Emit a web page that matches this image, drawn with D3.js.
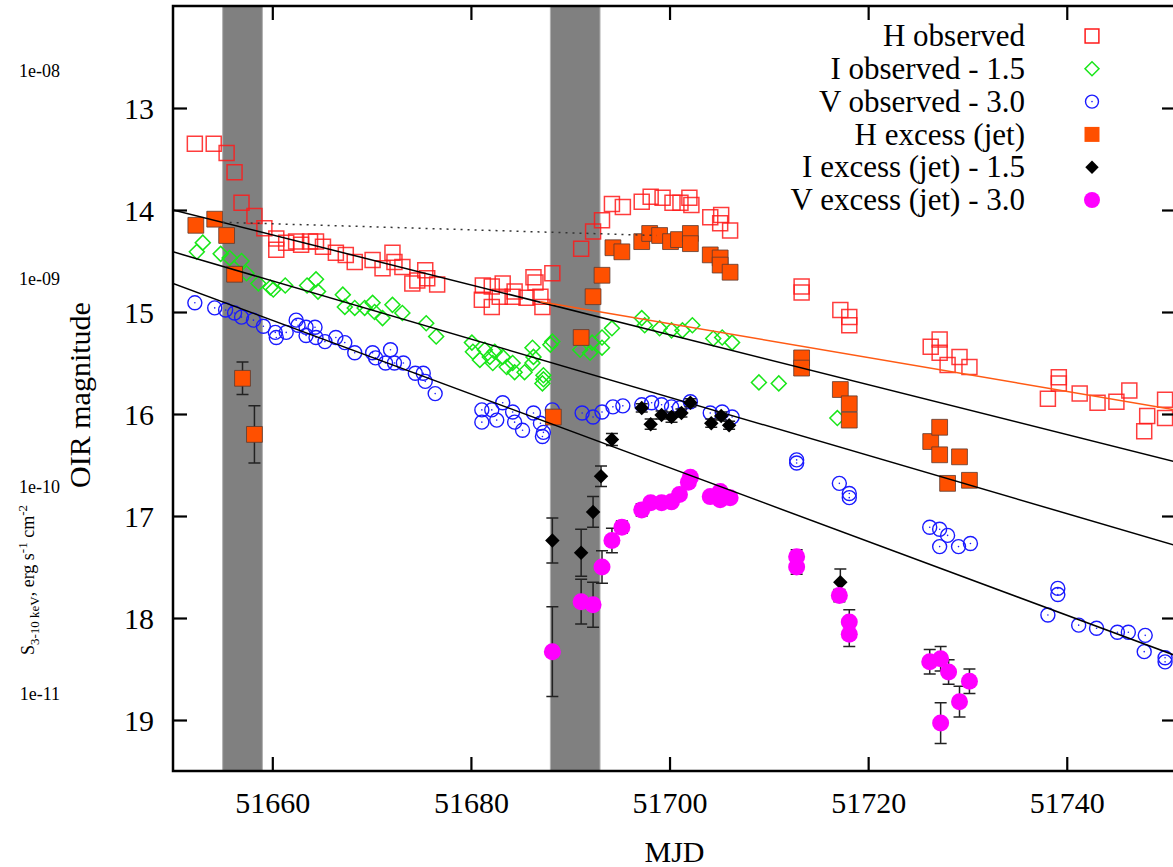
<!DOCTYPE html>
<html>
<head>
<meta charset="utf-8">
<script src="https://cdn.jsdelivr.net/npm/d3@7"></script>
<style>
  body { margin: 0; background: #fff; }
  svg { display: block; font-family: "Liberation Serif", "DejaVu Serif", serif; }
</style>
</head>
<body>
<script>
// --- data (MJD, magnitude[, error]) ---
const hObserved = [
  [51652.2,13.35],[51654.1,13.35],[51655.4,13.44],[51656.2,13.63],[51656.9,13.93],[51658.2,14.06],[51659.2,14.18],
  [51660.4,14.28],[51660.4,14.39],[51661.4,14.32],[51662.4,14.31],[51662.9,14.34],[51663.8,14.31],[51664.4,14.31],
  [51665.1,14.36],[51666.4,14.42],[51667.4,14.44],[51668.3,14.51],[51670.1,14.49],[51671.1,14.57],[51672.1,14.42],
  [51672.3,14.51],[51673.1,14.56],[51674.1,14.72],[51674.6,14.69],[51675.4,14.59],[51675.6,14.67],[51676.6,14.73],
  [51681.2,14.74],[51681.1,14.88],[51682.1,14.75],[51682.1,14.95],[51683.2,14.72],[51682.9,14.85],[51684.2,14.85],
  [51684.4,14.80],[51685.6,14.86],[51686.3,14.66],[51686.5,14.71],[51687.2,14.95],[51687.0,14.85],[51688.2,14.62],
  [51691.1,14.38],[51692.3,14.21],[51693.2,14.10],[51694.2,13.94],[51695.3,13.97],[51697.2,13.92],[51698.1,13.87],
  [51699.3,13.88],[51700.3,13.93],[51701.1,13.93],[51702.0,13.88],[51702.2,13.95],[51704.1,14.07],[51705.2,14.05],
  [51705.1,14.13],[51706.1,14.20],[51713.3,14.75],[51713.3,14.81],[51717.2,14.98],[51718.1,15.05],[51718.1,15.13],
  [51726.3,15.34],[51727.2,15.27],[51727.2,15.40],[51728.0,15.52],[51729.2,15.44],[51730.2,15.54],[51738.1,15.85],
  [51739.2,15.64],[51739.2,15.70],[51741.3,15.80],[51743.1,15.89],[51745.0,15.88],[51746.3,15.77],[51748.1,16.02],
  [51747.8,16.17],[51749.9,15.86],[51749.9,16.04]
];
const iObserved = [
  [51652.4,14.41],[51653.0,14.32],[51654.8,14.43],[51655.7,14.47],[51656.9,14.50],[51657.4,14.62],[51658.6,14.72],
  [51659.8,14.76],[51660.1,14.78],[51661.3,14.74],[51663.5,14.74],[51664.4,14.68],[51664.6,14.80],[51667.1,14.83],
  [51667.3,14.95],[51668.3,14.96],[51669.3,14.96],[51670.1,14.91],[51670.3,15.00],[51671.1,15.06],[51672.1,14.93],
  [51673.1,15.01],[51675.5,15.11],[51676.5,15.24],[51680.1,15.30],[51680.2,15.39],[51680.9,15.47],[51681.4,15.37],
  [51681.9,15.44],[51682.4,15.39],[51682.2,15.50],[51683.2,15.44],[51683.6,15.54],[51684.2,15.50],[51684.4,15.59],
  [51685.4,15.59],[51686.2,15.35],[51686.3,15.44],[51686.2,15.50],[51687.3,15.62],[51687.2,15.70],[51687.3,15.66],
  [51688.2,15.29],[51688.0,15.32],[51691.0,15.37],[51692.0,15.40],[51692.2,15.30],[51693.2,15.35],[51693.2,15.25],
  [51694.2,15.16],[51697.2,15.06],[51697.5,15.13],[51699.0,15.16],[51700.2,15.18],[51701.3,15.18],[51702.3,15.13],
  [51704.4,15.26],[51705.3,15.25],[51706.3,15.30],[51709.0,15.69],[51711.0,15.70],[51716.9,16.04]
];
const vObserved = [
  [51652.2,14.91],[51654.2,14.96],[51655.3,14.98],[51656.2,15.01],[51656.9,15.05],[51658.1,15.08],[51659.1,15.14],
  [51660.3,15.20],[51660.4,15.25],[51661.4,15.20],[51662.4,15.08],[51662.6,15.13],[51663.4,15.15],[51664.3,15.15],
  [51663.4,15.23],[51664.4,15.25],[51665.3,15.29],[51666.4,15.25],[51667.3,15.30],[51668.3,15.40],[51670.1,15.40],
  [51670.4,15.45],[51671.9,15.37],[51671.4,15.50],[51672.3,15.50],[51673.2,15.50],[51674.4,15.60],[51675.2,15.60],
  [51675.4,15.68],[51676.4,15.80],[51681.1,15.96],[51681.1,16.08],[51682.1,15.96],[51683.2,15.89],[51682.6,16.06],
  [51684.2,15.98],[51684.4,16.08],[51685.2,16.16],[51686.3,15.99],[51687.0,16.09],[51687.2,16.22],[51687.3,16.18],
  [51688.2,15.96],[51691.2,15.99],[51692.3,16.03],[51693.2,15.98],[51694.3,15.93],[51695.3,15.92],[51697.2,15.91],
  [51698.2,15.89],[51699.2,15.91],[51700.2,15.93],[51701.0,15.94],[51702.1,15.88],[51704.1,15.99],[51705.3,15.98],
  [51706.3,16.03],[51712.8,16.45],[51712.8,16.48],[51717.1,16.68],[51718.1,16.78],[51718.1,16.82],[51726.2,17.11],
  [51727.2,17.13],[51728.0,17.19],[51727.2,17.30],[51729.1,17.30],[51730.3,17.27],[51738.1,17.97],[51739.1,17.71],
  [51739.1,17.77],[51741.2,18.07],[51743.0,18.10],[51745.1,18.14],[51746.2,18.14],[51747.9,18.17],[51747.8,18.33],
  [51749.9,18.39],[51749.9,18.43]
];
const hExcess = [
  [51652.3,14.15,0],[51654.2,14.09,0],[51655.4,14.25,0],[51656.2,14.63,0],[51657.0,15.65,0.16],[51658.2,16.20,0.28],
  [51688.3,16.03,0.05],[51691.1,15.25,0],[51692.3,14.85,0],[51693.2,14.64,0],[51694.3,14.37,0],[51695.2,14.41,0],
  [51697.2,14.31,0],[51698.0,14.23,0],[51699.0,14.25,0],[51700.1,14.31,0],[51700.9,14.29,0],[51702.1,14.23,0],
  [51702.1,14.33,0],[51704.1,14.44,0],[51705.1,14.47,0],[51705.1,14.54,0],[51706.1,14.61,0],[51713.3,15.45,0],
  [51713.3,15.55,0],[51717.2,15.76,0],[51718.1,15.90,0],[51718.1,16.06,0],[51726.3,16.27,0],[51727.2,16.13,0],
  [51727.2,16.40,0],[51729.2,16.42,0],[51728.0,16.68,0],[51730.2,16.65,0]
];
const iExcess = [
  [51688.2,17.24,0.22],[51691.1,17.36,0.23],[51692.3,16.96,0.15],[51693.1,16.61,0.10],[51694.2,16.25,0.06],
  [51697.2,15.94,0.04],[51698.1,16.10,0.05],[51699.2,16.01,0.04],[51700.2,16.03,0.05],[51701.2,15.99,0.04],
  [51702.1,15.89,0.04],[51704.2,16.09,0.04],[51705.2,16.02,0.04],[51706.0,16.11,0.04],[51717.2,17.65,0.13]
];
const vExcess = [
  [51688.2,18.33,0.44],[51691.1,17.84,0.22],[51692.3,17.87,0.22],[51693.2,17.50,0.16],[51694.2,17.24,0.12],
  [51695.2,17.11,0.06],[51697.2,16.94,0.06],[51698.1,16.87,0.04],[51699.2,16.87,0.04],[51700.2,16.86,0.04],
  [51701.0,16.79,0.04],[51701.9,16.67,0.04],[51702.1,16.62,0.04],[51704.1,16.81,0.04],[51705.1,16.76,0.04],
  [51705.1,16.84,0.04],[51706.1,16.82,0.04],[51712.8,17.40,0.07],[51712.8,17.50,0.07],[51717.1,17.78,0.06],
  [51718.1,18.04,0.12],[51718.1,18.16,0.12],[51726.2,18.43,0.12],[51727.3,18.40,0.12],[51728.1,18.53,0.12],
  [51727.3,19.03,0.20],[51729.2,18.82,0.15],[51730.2,18.62,0.12]
];

// fitted decays and model line
const hFit = [[51650, 14.00], [51751, 16.47]];
const iFit = [[51650, 14.41], [51751, 17.29]];
const vFit = [[51650, 14.72], [51751, 18.37]];
const hJetFit = [[51687, 14.90], [51751, 15.96]];
const dottedModel = [[51655, 14.12], [51698.7, 14.25]];

// shaded intervals (MJD)
const gaps = [[51655, 51659], [51688, 51693]];

const xTicks = [51660, 51680, 51700, 51720, 51740];
const yTicks = [13, 14, 15, 16, 17, 18, 19];
const fluxTicks = [1e-8, 1e-9, 1e-10, 1e-11];
const fluxTickLabels = ["1e-08", "1e-09", "1e-10", "1e-11"];
const legendLabels = ["H observed", "I observed - 1.5", "V observed - 3.0",
                      "H excess (jet)", "I excess (jet) - 1.5", "V excess (jet) - 3.0"];

// --- layout ---
const width = 1173, height = 867;
const margin = { left: 173, right: 1176, top: 6, bottom: 771 };

const x = d3.scaleLinear().domain([51650, 51751]).range([margin.left, margin.right]);
const y = d3.scaleLinear().domain([12, 19.5]).range([margin.top, margin.bottom]);
const flux = d3.scaleLog().domain([1e-11, 1e-8]).range([694, 71]);

const svg = d3.select("body").append("svg")
  .attr("width", width)
  .attr("height", height);

svg.append("clipPath").attr("id", "plot")
  .append("rect")
  .attr("x", margin.left).attr("y", margin.top)
  .attr("width", margin.right - margin.left)
  .attr("height", margin.bottom - margin.top);

const plot = svg.append("g").attr("clip-path", "url(#plot)");

// grey bands
plot.selectAll("rect.gap")
  .data(gaps)
  .enter().append("rect")
  .attr("class", "gap")
  .attr("x", d => x(d[0]))
  .attr("y", margin.top)
  .attr("width", d => x(d[1]) - x(d[0]))
  .attr("height", margin.bottom - margin.top)
  .attr("fill", "#808080")
  .attr("stroke", "#b0b0b0")
  .attr("stroke-width", 1);

const sym = (type, size) => d3.symbol().type(type).size(size)();

// error bars
function errorBars(data) {
  const g = plot.append("g").attr("stroke", "#222").attr("stroke-width", 1.5).attr("fill", "none");
  const withErr = data.filter(d => d[2] > 0);
  g.selectAll("path")
    .data(withErr)
    .enter().append("path")
    .attr("d", d => {
      const cx = x(d[0]), y0 = y(d[1] - d[2]), y1 = y(d[1] + d[2]);
      return `M${cx},${y0}V${y1}M${cx - 6},${y0}H${cx + 6}M${cx - 6},${y1}H${cx + 6}`;
    });
}

// H observed: open squares
plot.append("g").selectAll("path")
  .data(hObserved).enter().append("path")
  .attr("d", sym(d3.symbolSquare, 225))
  .attr("transform", d => `translate(${x(d[0])},${y(d[1])})`)
  .attr("fill", "none").attr("stroke", "#ff1a1a").attr("stroke-width", 1.5).attr("stroke-opacity", 0.85);

// I observed: open diamonds
plot.append("g").selectAll("path")
  .data(iObserved).enter().append("path")
  .attr("d", sym(d3.symbolSquare, 112))
  .attr("transform", d => `translate(${x(d[0])},${y(d[1])}) rotate(45)`)
  .attr("fill", "none").attr("stroke", "#19e619").attr("stroke-width", 1.5);

// V observed: open circles with a centre dot
const vg = plot.append("g");
vg.selectAll("circle.o")
  .data(vObserved).enter().append("circle")
  .attr("class", "o")
  .attr("cx", d => x(d[0])).attr("cy", d => y(d[1])).attr("r", 7)
  .attr("fill", "none").attr("stroke", "#1a1aff").attr("stroke-width", 1.4);
vg.selectAll("circle.c")
  .data(vObserved).enter().append("circle")
  .attr("class", "c")
  .attr("cx", d => x(d[0])).attr("cy", d => y(d[1])).attr("r", 0.8)
  .attr("fill", "#1a1aff");

// H excess: filled squares
errorBars(hExcess);
plot.append("g").selectAll("path")
  .data(hExcess).enter().append("path")
  .attr("d", sym(d3.symbolSquare, 250))
  .attr("transform", d => `translate(${x(d[0])},${y(d[1])})`)
  .attr("fill", "#ff5000").attr("stroke", "#5a3a30").attr("stroke-width", 0.8);

// I excess: black diamonds
errorBars(iExcess);
plot.append("g").selectAll("path")
  .data(iExcess).enter().append("path")
  .attr("d", sym(d3.symbolSquare, 105))
  .attr("transform", d => `translate(${x(d[0])},${y(d[1])}) rotate(45)`)
  .attr("fill", "#000");

// V excess: magenta dots
errorBars(vExcess);
plot.append("g").selectAll("circle")
  .data(vExcess).enter().append("circle")
  .attr("cx", d => x(d[0])).attr("cy", d => y(d[1])).attr("r", 8.5)
  .attr("fill", "#ff00ff");

// fit lines
const line = d3.line().x(d => x(d[0])).y(d => y(d[1]));
[hFit, iFit, vFit].forEach(f => {
  plot.append("path").attr("d", line(f))
    .attr("fill", "none").attr("stroke", "#000").attr("stroke-width", 1.5);
});
plot.append("path").attr("d", line(hJetFit))
  .attr("fill", "none").attr("stroke", "#ff5a14").attr("stroke-width", 1.5);
plot.append("path").attr("d", line(dottedModel))
  .attr("fill", "none").attr("stroke", "#333").attr("stroke-width", 1.5)
  .attr("stroke-dasharray", "2,5");

// axes (ticks pointing inward on all four sides)
const fontSize = 30;
const xAxis = svg.append("g")
  .attr("transform", `translate(0,${margin.bottom})`)
  .call(d3.axisBottom(x).tickValues(xTicks).tickSize(-14).tickPadding(21).tickFormat(d3.format("d")));
const yAxis = svg.append("g")
  .attr("transform", `translate(${margin.left},0)`)
  .call(d3.axisLeft(y).tickValues(yTicks).tickSize(-14).tickPadding(19).tickFormat(d3.format("d")));
const topAxis = svg.append("g")
  .attr("transform", `translate(0,${margin.top})`)
  .call(d3.axisTop(x).tickValues(xTicks).tickSize(-14).tickFormat(""));
const rightAxis = svg.append("g")
  .attr("transform", `translate(${margin.right},0)`)
  .call(d3.axisRight(y).tickValues(yTicks).tickSize(-14).tickFormat(""));

[xAxis, yAxis, topAxis, rightAxis].forEach(a => {
  a.select(".domain").remove();
  a.selectAll(".tick line").attr("stroke", "#000").attr("stroke-width", 2.2);
  a.selectAll("text")
    .attr("font-family", "Liberation Serif, serif")
    .attr("font-size", fontSize)
    .attr("fill", "#000");
});
yAxis.selectAll("text").attr("dy", "0.34em");

// frame
svg.append("rect")
  .attr("x", margin.left).attr("y", margin.top)
  .attr("width", margin.right - margin.left)
  .attr("height", margin.bottom - margin.top)
  .attr("fill", "none").attr("stroke", "#000").attr("stroke-width", 2.5);

// axis titles
svg.append("text")
  .attr("x", (margin.left + margin.right) / 2).attr("y", 862)
  .attr("text-anchor", "middle").attr("font-size", fontSize)
  .text("MJD");
svg.append("text")
  .attr("transform", "translate(90,395) rotate(-90)")
  .attr("text-anchor", "middle").attr("font-size", fontSize)
  .text("OIR magnitude");

// X-ray flux labels (secondary scale, left)
svg.append("g").selectAll("text")
  .data(fluxTicks).enter().append("text")
  .attr("x", 60).attr("y", d => flux(d))
  .attr("dy", "0.35em")
  .attr("text-anchor", "end").attr("font-size", 18)
  .text((d, i) => fluxTickLabels[i]);

const fluxTitle = svg.append("text")
  .attr("transform", "translate(34,580) rotate(-90)")
  .attr("text-anchor", "middle").attr("font-size", 18);
fluxTitle.append("tspan").text("S");
fluxTitle.append("tspan").attr("font-size", 13).attr("dy", 5).text("3-10 keV");
fluxTitle.append("tspan").attr("dy", -5).text(", erg s");
fluxTitle.append("tspan").attr("font-size", 13).attr("dy", -7).text("-1");
fluxTitle.append("tspan").attr("dy", 7).text(" cm");
fluxTitle.append("tspan").attr("font-size", 13).attr("dy", -7).text("-2");

// legend
const legend = svg.append("g");
const rowY = i => 36 + i * 32.8;
legend.selectAll("text")
  .data(legendLabels).enter().append("text")
  .attr("x", 1025).attr("y", (d, i) => rowY(i))
  .attr("dy", "0.33em")
  .attr("text-anchor", "end").attr("font-size", 31)
  .text(d => d);

const lx = 1092;
legend.append("path").attr("d", sym(d3.symbolSquare, 190))
  .attr("transform", `translate(${lx},${rowY(0)})`)
  .attr("fill", "none").attr("stroke", "#ff1a1a").attr("stroke-width", 1.5);
legend.append("path").attr("d", sym(d3.symbolSquare, 98))
  .attr("transform", `translate(${lx},${rowY(1)}) rotate(45)`)
  .attr("fill", "none").attr("stroke", "#19e619").attr("stroke-width", 1.5);
legend.append("circle").attr("cx", lx).attr("cy", rowY(2)).attr("r", 6.5)
  .attr("fill", "none").attr("stroke", "#1a1aff").attr("stroke-width", 1.4);
legend.append("circle").attr("cx", lx).attr("cy", rowY(2)).attr("r", 0.8).attr("fill", "#1a1aff");
legend.append("path").attr("d", sym(d3.symbolSquare, 225))
  .attr("transform", `translate(${lx},${rowY(3)})`)
  .attr("fill", "#ff5000");
legend.append("path").attr("d", sym(d3.symbolSquare, 90))
  .attr("transform", `translate(${lx},${rowY(4)}) rotate(45)`)
  .attr("fill", "#000");
legend.append("circle").attr("cx", lx).attr("cy", rowY(5)).attr("r", 8).attr("fill", "#ff00ff");
</script>
</body>
</html>
